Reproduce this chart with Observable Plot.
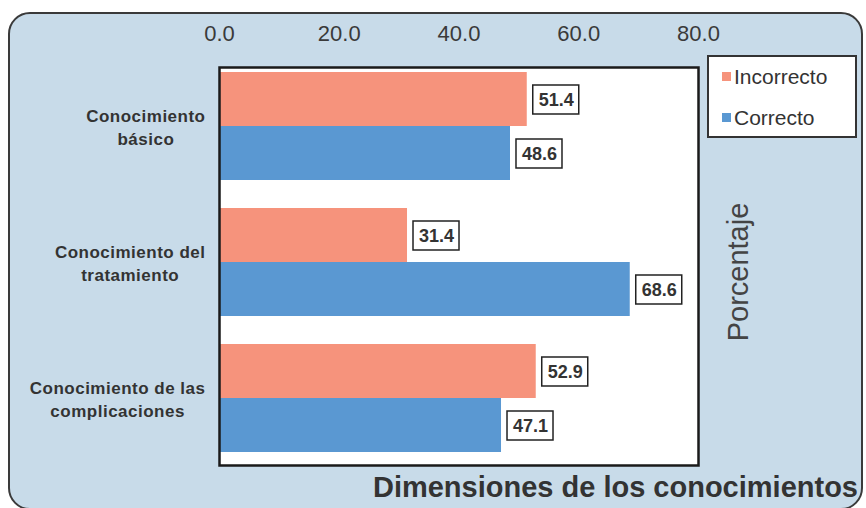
<!DOCTYPE html>
<html>
<head>
<meta charset="utf-8">
<script src="https://cdn.jsdelivr.net/npm/d3@7"></script>
<script src="https://cdn.jsdelivr.net/npm/@observablehq/plot@0.6"></script>
<style>
  html, body { margin: 0; padding: 0; background: #ffffff; }
  #wrap { position: relative; width: 866px; height: 508px; overflow: hidden; font-family: "Liberation Sans", Arial, sans-serif; }
  #panel { position: absolute; left: 8px; top: 12px; width: 851px; height: 494px; border: 2.5px solid #3a3a3a; border-radius: 22px; background: #c8dbe9; }
  #chart { position: absolute; left: 0; top: 0; }
  #legend { position: absolute; left: 707px; top: 55px; width: 146px; height: 79px; background: #fff; border: 2px solid #333; }
  .item { position: absolute; left: 13px; font-size: 21px; color: #333; line-height: 1; white-space: nowrap; }
  .sw { display: inline-block; width: 9px; height: 9px; margin-right: 3px; vertical-align: 3px; }
  #ylab { position: absolute; left: 738px; top: 272px; transform: translate(-50%, -50%) rotate(-90deg); font-size: 29px; color: #444; white-space: nowrap; }
  #title { position: absolute; right: 8px; top: 471px; font-size: 29px; font-weight: bold; color: #333; white-space: nowrap; }
</style>
</head>
<body>
<div id="wrap">
  <div id="panel"></div>
  <div id="chart"></div>
  <div id="legend"></div>
  <div id="ylab"></div>
  <div id="title"></div>
</div>
<script>
const categories = ["Conocimiento básico", "Conocimiento del tratamiento", "Conocimiento de las complicaciones"];
const categoryLabels = ["Conocimiento\nbásico", "Conocimiento del\ntratamiento", "Conocimiento de las\ncomplicaciones"];
const series = ["Incorrecto", "Correcto"];
const incorrecto = [51.4, 31.4, 52.9];
const correcto = [48.6, 68.6, 47.1];
const xTicks = [0, 20, 40, 60, 80];
const seriesColors = ["#f6937c", "#5a98d2"];
const xAxisTitle = "Porcentaje";
const chartTitle = "Dimensiones de los conocimientos";

const values = {Incorrecto: incorrecto, Correcto: correcto};
const data = categories.flatMap((c, i) => series.map(s => ({cat: c, serie: s, value: values[s][i]})));

const W = 866, H = 508;
const mL = 219, mR = 168, mT = 67, mB = 43;
const pIn = 0.206, pOut = 0.066;
const innerH = H - mT - mB;
const step = innerH / (categories.length - pIn + 2 * pOut);
const bw = step * (1 - pIn);
const half = bw / 2;

const marks = [Plot.frame({fill: "white", stroke: "none"})];
series.forEach((s, k) => {
  const sub = data.filter(d => d.serie === s);
  const top = k === 0 ? 0 : half;
  const bottom = k === 0 ? half : 0;
  marks.push(Plot.barX(sub, {x: "value", y: "cat", fill: "serie", insetTop: top, insetBottom: bottom}));
  marks.push(Plot.barX(sub, {x1: "value", x2: "value", y: "cat", insetLeft: 6, insetRight: -52,
    insetTop: top + 13, insetBottom: bottom + 12, fill: "white", stroke: "#222", strokeWidth: 1.5}));
  marks.push(Plot.text(sub, {x: "value", y: "cat", text: d => d.value.toFixed(1), dx: 29,
    dy: (k === 0 ? -1 : 1) * half / 2 + 0.5, fontSize: 18, fontWeight: "bold", fill: "#333"}));
});
marks.push(Plot.frame({stroke: "#1a1a1a", strokeWidth: 2.5}));
marks.push(Plot.axisX({anchor: "top", ticks: xTicks, tickFormat: d => d.toFixed(1), tickSize: 0, tickPadding: 27,
  fontSize: 22, fill: "#3a3a3a", label: null}));
marks.push(Plot.axisY({tickSize: 0, tickPadding: 14, fontSize: 17, fontWeight: "bold", lineHeight: 1.35,
  fill: "#333", tickFormat: d => categoryLabels[categories.indexOf(d)], label: null}));

const chart = Plot.plot({
  width: W, height: H,
  marginLeft: mL, marginRight: mR, marginTop: mT, marginBottom: mB,
  style: {background: "transparent", color: "#2a2a2a", fontFamily: "'Liberation Sans', Arial, sans-serif", overflow: "visible"},
  x: {domain: [0, 80]},
  y: {domain: categories, paddingInner: pIn, paddingOuter: pOut, align: 0.3},
  color: {domain: series, range: seriesColors},
  marks
});
document.getElementById("chart").appendChild(chart);

// widen and center multi-line category labels within their block
chart.querySelectorAll('g[aria-label="y-axis tick label"] text').forEach(t => {
  t.setAttribute("letter-spacing", "0.5");
  const b = t.getBBox();
  const cx = b.x + b.width / 2;
  t.setAttribute("text-anchor", "middle");
  const tsp = t.querySelectorAll("tspan");
  if (tsp.length) tsp.forEach(s => s.setAttribute("x", cx));
  else t.setAttribute("x", cx);
});

// legend from the series arrays
const leg = document.getElementById("legend");
series.forEach((s, k) => {
  const it = document.createElement("div");
  it.className = "item";
  it.style.top = (k === 0 ? 9 : 50) + "px";
  it.innerHTML = `<span class="sw" style="background:${seriesColors[k]}"></span>${s}`;
  leg.appendChild(it);
});
document.getElementById("ylab").textContent = xAxisTitle;
document.getElementById("title").textContent = chartTitle;
</script>
</body>
</html>
